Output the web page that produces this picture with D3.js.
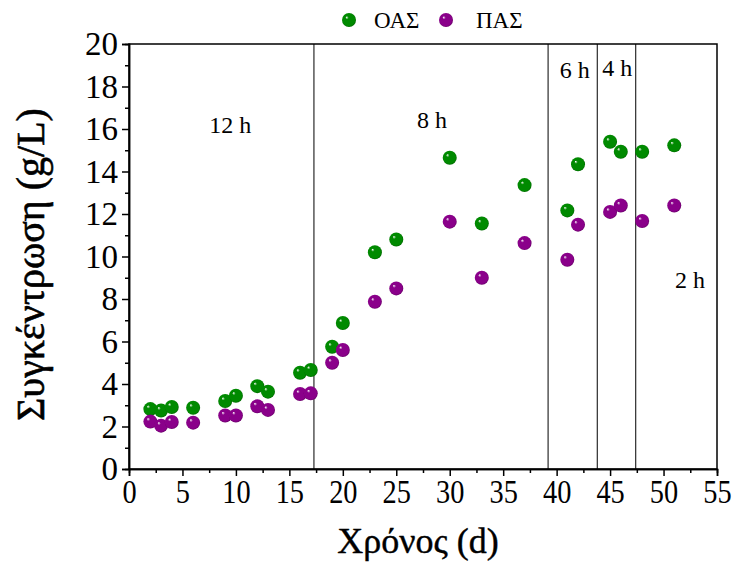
<!DOCTYPE html>
<html>
<head>
<meta charset="utf-8">
<script src="https://cdn.jsdelivr.net/npm/d3@7"></script>
<style>
  html, body { margin: 0; padding: 0; background: #fff; }
  svg { display: block; }
  text { font-family: "Liberation Serif", "Times New Roman", serif; fill: #000; }
</style>
</head>
<body>
<svg id="chart" width="735" height="564"></svg>
<script>
// ---- data ----
const days = [2, 3, 4, 6, 9, 10, 12, 13, 16, 17, 19, 20, 23, 25, 30, 33, 37, 41, 42, 45, 46, 48, 51];
const oas  = [2.82, 2.75, 2.92, 2.88, 3.2, 3.45, 3.9, 3.64, 4.53, 4.66, 5.75, 6.87, 10.2, 10.8, 14.65, 11.55, 13.36, 12.17, 14.34, 15.4, 14.93, 14.93, 15.23];
const pas  = [2.23, 2.04, 2.21, 2.18, 2.52, 2.52, 2.95, 2.78, 3.53, 3.56, 5.0, 5.6, 7.87, 8.5, 11.64, 9.0, 10.63, 9.85, 11.5, 12.1, 12.4, 11.67, 12.4];
const seriesNames = ["ΟΑΣ", "ΠΑΣ"];
const phaseBounds = [17.3, 39.2, 43.8, 47.4];
const phaseLabels = ["12 h", "8 h", "6 h", "4 h", "2 h"];
const phaseLabelX = [9.48, 28.34, 41.69, 45.68, 52.48];
const phaseLabelY = [15.8, 16.03, 18.41, 18.49, 8.5];
const xTicks = [0, 5, 10, 15, 20, 25, 30, 35, 40, 45, 50, 55];
const yTicks = [0, 2, 4, 6, 8, 10, 12, 14, 16, 18, 20];
const xTitle = "Χρόνος (d)";
const yTitle = "Συγκέντρωση (g/L)";

// ---- layout ----
const W = 735, H = 564;
const m = { left: 129, right: 18, top: 44, bottom: 95 };
const svg = d3.select("#chart");
const x = d3.scaleLinear().domain([0, 55]).range([m.left, W - m.right]);
const y = d3.scaleLinear().domain([0, 20]).range([H - m.bottom, m.top]);

// gradients for glossy spheres
const defs = svg.append("defs");
function sphere(id, base, dark) {
  const g = defs.append("radialGradient").attr("id", id)
    .attr("cx", "50%").attr("cy", "50%").attr("r", "55%")
    .attr("fx", "32%").attr("fy", "30%");
  g.append("stop").attr("offset", "0%").attr("stop-color", "#ffffff");
  g.append("stop").attr("offset", "22%").attr("stop-color", base);
  g.append("stop").attr("offset", "80%").attr("stop-color", base);
  g.append("stop").attr("offset", "100%").attr("stop-color", dark);
}
sphere("gGreen", "#008a00", "#005a00");
sphere("gPurple", "#8a008a", "#5a005a");
const fills = ["url(#gGreen)", "url(#gPurple)"];

// frame
svg.append("rect")
  .attr("x", x(0)).attr("y", y(20))
  .attr("width", x(55) - x(0)).attr("height", y(0) - y(20))
  .attr("fill", "none").attr("stroke", "#000").attr("stroke-width", 1.5);

// phase lines
svg.append("g").selectAll("line").data(phaseBounds).join("line")
  .attr("x1", d => x(d)).attr("x2", d => x(d))
  .attr("y1", y(0)).attr("y2", y(20))
  .attr("stroke", "#000").attr("stroke-width", 1);

// axes
const xAxis = svg.append("g").attr("transform", `translate(0,${y(0)})`)
  .call(d3.axisBottom(x).tickValues(xTicks).tickSize(7).tickPadding(3).tickFormat(d3.format("d")));
const xMinor = svg.append("g").attr("transform", `translate(0,${y(0)})`)
  .call(d3.axisBottom(x).tickValues(d3.range(2.5, 55, 5)).tickSize(4).tickFormat(""));
const yAxis = svg.append("g").attr("transform", `translate(${x(0)},0)`)
  .call(d3.axisLeft(y).tickValues(yTicks).tickSize(7).tickPadding(4).tickFormat(d3.format("d")));
const yMinor = svg.append("g").attr("transform", `translate(${x(0)},0)`)
  .call(d3.axisLeft(y).tickValues(d3.range(1, 20, 2)).tickSize(4).tickFormat(""));
[xAxis, xMinor, yAxis, yMinor].forEach(a => {
  a.attr("font-family", null);
  a.select(".domain").attr("stroke", "#000").attr("stroke-width", 1.5);
  a.selectAll(".tick line").attr("stroke", "#000").attr("stroke-width", 1.5);
});
xAxis.selectAll(".tick text").attr("font-size", 33).attr("dy", "0.74em")
  .attr("transform", "scale(0.86,1)")
  .attr("x", function() { return 0; });
yAxis.selectAll(".tick text").attr("font-size", 33).attr("dy", "0.33em");

// phase labels
svg.append("g").selectAll("text").data(phaseLabels).join("text")
  .attr("x", (d, i) => x(phaseLabelX[i]))
  .attr("y", (d, i) => y(phaseLabelY[i]))
  .attr("text-anchor", "middle")
  .attr("font-size", 24)
  .text(d => d);

// points
const series = [oas, pas];
series.forEach((vals, s) => {
  svg.append("g").selectAll("circle").data(days).join("circle")
    .attr("cx", d => x(d))
    .attr("cy", (d, i) => y(vals[i]))
    .attr("r", 7)
    .attr("fill", fills[s]);
});

// legend
const legX = [349, 446];
const legTX = [374, 476];
seriesNames.forEach((n, i) => {
  svg.append("circle").attr("cx", legX[i]).attr("cy", 20).attr("r", 7).attr("fill", fills[i]);
  svg.append("text").attr("x", legTX[i]).attr("y", 28).attr("font-size", 23).text(n);
});

// titles
svg.append("text").attr("x", (x(0) + x(55)) / 2 - 5).attr("y", 553)
  .attr("text-anchor", "middle").attr("font-size", 36)
  .attr("stroke", "#000").attr("stroke-width", 0.4).text(xTitle);
svg.append("text")
  .attr("transform", `translate(44,${(y(0) + y(20)) / 2 + 8}) rotate(-90)`)
  .attr("text-anchor", "middle").attr("font-size", 40)
  .attr("stroke", "#000").attr("stroke-width", 0.6).text(yTitle);
</script>
</body>
</html>
